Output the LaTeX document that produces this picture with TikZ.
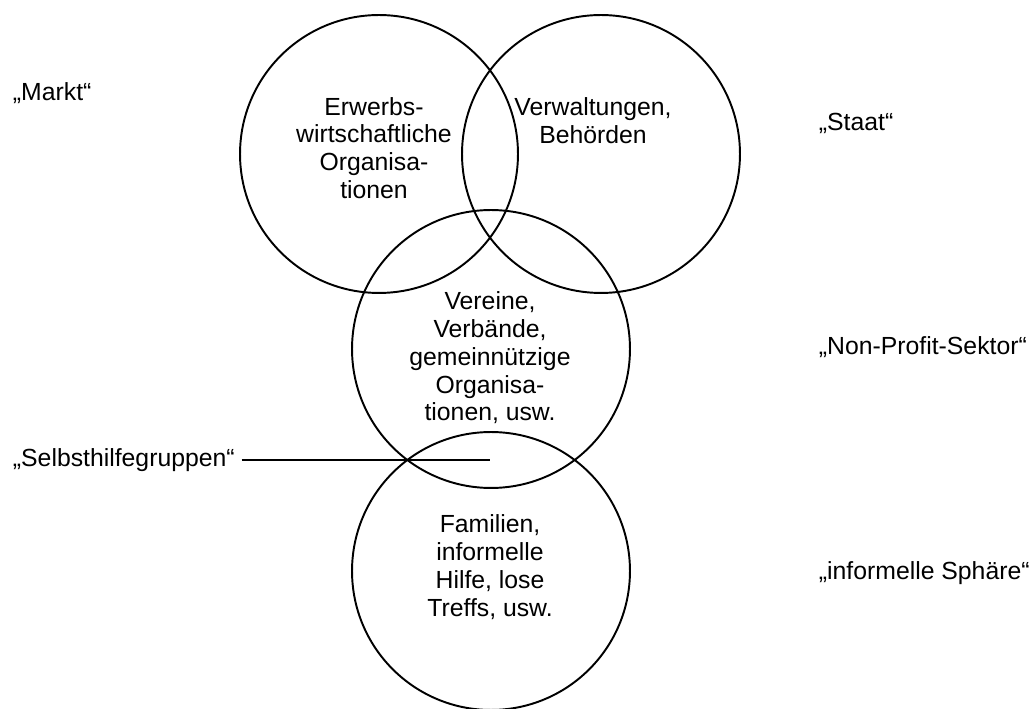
\documentclass[tikz,border=0pt]{standalone}
\usepackage{fontspec}
\setmainfont{Liberation Sans}
\usetikzlibrary{shapes,positioning}

\begin{document}
\begin{tikzpicture}[x=0.02cm, y=-0.02cm, line width=1.1pt,
	font=\fontsize{14.1}{15.8}\selectfont,
	kreis/.style={draw, circle, inner sep=0, minimum size=5.56cm},
	inhalt/.style={align=center, inner sep=0},
	sektor/.style={anchor=west, inner sep=0}]
	%\draw[help lines, yellow] (0,0)grid[step=50](1036,709);
	\useasboundingbox (0,0) rectangle (1036,709);
	% We start by placing the circles
	\node [kreis] (markt) at (379,154) {};
	\node [kreis] (staat) at (601,154) {};
	\node [kreis] (npo) at (491,349) {};
	\node [kreis] (informell) at (491,571) {};
	% Texts inside the circles
	\node [inhalt] (marktText) at (374,148) {Erwerbs-\\wirtschaftliche\\Organisa-\\tionen};
	\node [inhalt] (staatText) at (593,121) {Verwaltungen,\\Behörden};
	\node [inhalt] (npoText) at (490,358) {Vereine,\\Verbände,\\gemeinnützige\\Organisa-\\tionen, usw.};
	\node [inhalt] (informellText) at (490,567) {Familien,\\informelle\\Hilfe, lose\\Treffs, usw.};
	% Sector names at the sides
	\node [sektor] (marktName) at (12,93) {„Markt“};
	\node [sektor] (staatName) at (818,123) {„Staat“};
	\node [sektor] (npoName) at (818,347) {„Non-Profit-Sektor“};
	\node [sektor] (informellName) at (818,573) {„informelle Sphäre“};
	\node [sektor] (selbsthilfe) at (12,460) {„Selbsthilfegruppen“};
	\coordinate (selbsthilfeEnd) at (490,460);
	% Once the nodes are placed, connecting them is easy.
	\draw [-, shorten <=0.12cm] (selbsthilfe.east) -- (selbsthilfeEnd);
\end{tikzpicture}
\end{document}
